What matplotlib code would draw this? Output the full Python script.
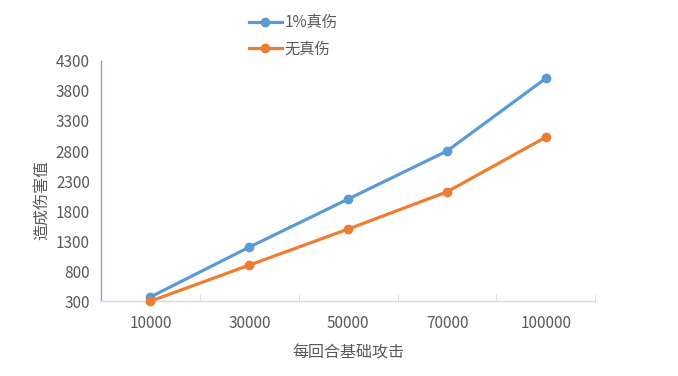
import matplotlib
matplotlib.use("Agg")
import matplotlib.pyplot as plt

plt.rcParams['font.family'] = ['Noto Sans CJK SC', 'DejaVu Sans']

categories = ['10000', '30000', '50000', '70000', '100000']
true_dmg = [370, 1200, 2000, 2800, 4010]
no_true_dmg = [300, 900, 1500, 2120, 3030]
yticks = [300, 800, 1300, 1800, 2300, 2800, 3300, 3800, 4300]

blue = '#5B9BD5'
orange = '#ED7D31'
text_color = '#595959'

fig = plt.figure(figsize=(6.78, 3.76), dpi=100)
ax = fig.add_axes([0.149, 0.199, 0.729, 0.639])

x = list(range(len(categories)))
ax.plot(x, true_dmg, color=blue, lw=2.3, marker='o', ms=6, label='1%真伤', clip_on=False, zorder=3)
ax.plot(x, no_true_dmg, color=orange, lw=2.3, marker='o', ms=6, label='无真伤', clip_on=False, zorder=3)

ax.set_xlim(-0.5, len(categories) - 0.5)
ax.set_ylim(300, 4300)
ax.set_yticks(yticks)
ax.tick_params(axis='y', length=0, labelsize=11, labelcolor=text_color, pad=8)

ax.set_xticks(x)
ax.set_xticklabels(categories)
ax.set_xticks([i + 0.5 for i in x], minor=True)
ax.tick_params(axis='x', which='major', length=0, labelsize=11, labelcolor=text_color, pad=10)
ax.tick_params(axis='x', which='minor', length=5, color='#D9D9D9', direction='in')

for s in ['top', 'right']:
    ax.spines[s].set_visible(False)
ax.spines['left'].set_color('#7FA7D4')
ax.spines['left'].set_linewidth(1)
ax.spines['bottom'].set_color('#D9D9D9')
ax.spines['bottom'].set_linewidth(1)

ax.set_xlabel('每回合基础攻击', fontsize=11.5, color=text_color, labelpad=9)
ax.set_ylabel('造成伤害值', fontsize=11.5, color=text_color)
ax.yaxis.set_label_coords(-0.104, 0.42)

fig.legend(loc='upper left', bbox_to_anchor=(0.347, 0.999), frameon=False,
           fontsize=11, labelcolor=text_color, handlelength=2.15, handletextpad=0.2,
           labelspacing=0.6)

fig.savefig('out.png', dpi=100)
